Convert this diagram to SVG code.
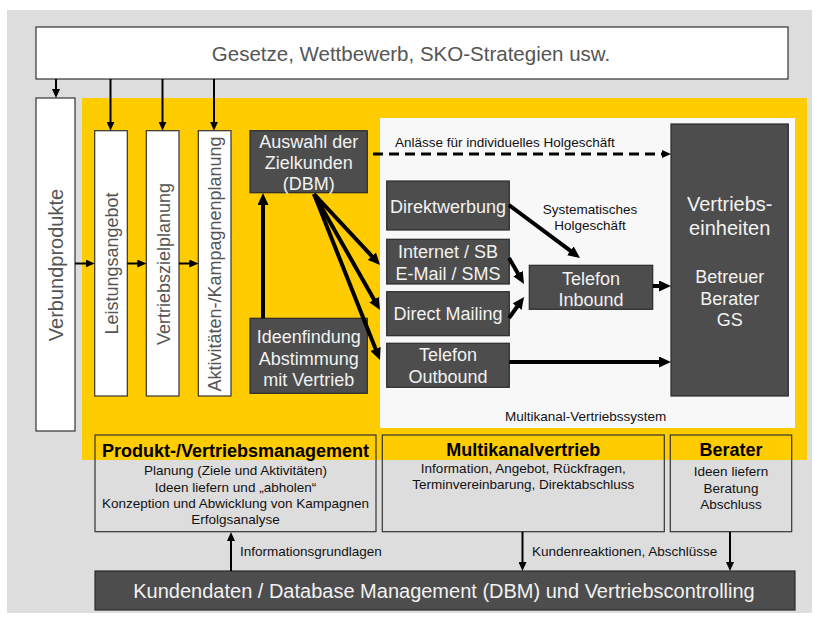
<svg xmlns="http://www.w3.org/2000/svg" width="818" height="619" viewBox="0 0 818 619">
<defs>
<style>
text{font-family:"Liberation Sans",Arial,sans-serif}
.wbox{fill:#fff;stroke:#333;stroke-width:1.2}
.dbox{fill:#4d4d4d;stroke:#2a2a2a;stroke-width:1.2}
.tbox{fill:none;stroke:#333;stroke-width:1.2}
.gt{fill:#555;font-size:18px}
.dt{fill:#f2f2f2;font-size:18px;text-anchor:middle}
.hd{fill:#000;font-size:18px;font-weight:bold;text-anchor:middle}
.sm{fill:#111;font-size:13.5px;text-anchor:middle}
.lb{fill:#111;font-size:13.5px}
.thin{stroke:#000;stroke-width:2;fill:none;marker-end:url(#at)}
.thick{stroke:#000;stroke-width:4;fill:none;marker-end:url(#ah)}
</style>
<marker id="ah" markerUnits="userSpaceOnUse" markerWidth="12" markerHeight="11" refX="4" refY="5.5" orient="auto"><path d="M0,0 L12,5.5 L0,11 z" fill="#000"/></marker>
<marker id="at" markerUnits="userSpaceOnUse" markerWidth="9" markerHeight="8" refX="3" refY="4" orient="auto"><path d="M0,0 L9,4 L0,8 z" fill="#000"/></marker>
</defs>
<rect x="7" y="10" width="805" height="603" fill="#dddddd"/>
<rect x="82" y="98" width="725" height="362" fill="#ffcc00"/>
<rect x="380" y="118" width="415" height="310" fill="#f8f8f8"/>

<g id="gesetze">
<rect class="wbox" x="36" y="27" width="752" height="52"/>
<text x="411" y="61" fill="#555" font-size="20.5" text-anchor="middle">Gesetze, Wettbewerb, SKO-Strategien usw.</text>
</g>
<g id="verbundprodukte">
<rect class="wbox" x="36" y="98" width="39" height="333"/>
<text class="gt" transform="translate(63,265) rotate(-90)" font-size="20" style="font-size:20px" text-anchor="middle">Verbundprodukte</text>
</g>
<g id="leistungsangebot">
<rect class="wbox" x="94.7" y="130.7" width="32.6" height="265.3"/>
<text class="gt" transform="translate(118,263.5) rotate(-90)" text-anchor="middle">Leistungsangebot</text>
</g>
<g id="vertriebszielplanung">
<rect class="wbox" x="146.3" y="130.7" width="32.7" height="265.3"/>
<text class="gt" transform="translate(169.5,264) rotate(-90)" text-anchor="middle">Vertriebszielplanung</text>
</g>
<g id="aktivitaeten">
<rect class="wbox" x="198.3" y="130.7" width="32.7" height="265.3"/>
<text class="gt" transform="translate(221,264) rotate(-90)" text-anchor="middle">Aktivitäten-/Kampagnenplanung</text>
</g>
<g id="auswahl">
<rect class="dbox" x="250" y="130.7" width="117.3" height="62"/>
<text class="dt" x="308.7" y="148">Auswahl der</text>
<text class="dt" x="308.7" y="169">Zielkunden</text>
<text class="dt" x="308.7" y="190">(DBM)</text>
</g>
<g id="ideenfindung">
<rect class="dbox" x="250" y="318.3" width="117.3" height="75"/>
<text class="dt" x="308.7" y="343">Ideenfindung</text>
<text class="dt" x="308.7" y="364.5">Abstimmung</text>
<text class="dt" x="308.7" y="386">mit Vertrieb</text>
</g>
<g id="direktwerbung">
<rect class="dbox" x="386.7" y="181" width="122.6" height="49"/>
<text class="dt" x="448" y="213">Direktwerbung</text>
</g>
<g id="internet">
<rect class="dbox" x="386.7" y="239.3" width="122.6" height="44.7"/>
<text class="dt" x="448" y="258">Internet / SB</text>
<text class="dt" x="448" y="280">E-Mail / SMS</text>
</g>
<g id="directmailing">
<rect class="dbox" x="386.7" y="291.7" width="122.6" height="44"/>
<text class="dt" x="448" y="320">Direct Mailing</text>
</g>
<g id="outbound">
<rect class="dbox" x="386.7" y="343.3" width="122.6" height="44"/>
<text class="dt" x="448" y="360.5">Telefon</text>
<text class="dt" x="448" y="383">Outbound</text>
</g>
<g id="inbound">
<rect class="dbox" x="529.3" y="265.3" width="123.4" height="44"/>
<text class="dt" x="591" y="284.7">Telefon</text>
<text class="dt" x="591" y="306.3">Inbound</text>
</g>
<g id="vertriebseinheiten">
<rect class="dbox" x="671" y="124" width="117.3" height="272"/>
<text class="dt" x="729.7" y="211" style="font-size:20px">Vertriebs-</text>
<text class="dt" x="729.7" y="234.5" style="font-size:20px">einheiten</text>
<text class="dt" x="729.7" y="283">Betreuer</text>
<text class="dt" x="729.7" y="304.5">Berater</text>
<text class="dt" x="729.7" y="326">GS</text>
</g>
<g id="produktmanagement">
<rect class="tbox" x="95" y="435" width="281" height="96.7"/>
<text class="hd" x="235.5" y="457">Produkt-/Vertriebsmanagement</text>
<text class="sm" x="235.5" y="475">Planung (Ziele und Aktivitäten)</text>
<text class="sm" x="235.5" y="491.5">Ideen liefern und „abholen“</text>
<text class="sm" x="235.5" y="508">Konzeption und Abwicklung von Kampagnen</text>
<text class="sm" x="235.5" y="524">Erfolgsanalyse</text>
</g>
<g id="multikanalvertrieb">
<rect class="tbox" x="382.3" y="435" width="282" height="96.7"/>
<text class="hd" x="523.3" y="456">Multikanalvertrieb</text>
<text class="sm" x="523.3" y="473">Information, Angebot, Rückfragen,</text>
<text class="sm" x="523.3" y="489">Terminvereinbarung, Direktabschluss</text>
</g>
<g id="berater">
<rect class="tbox" x="670.3" y="435" width="121.4" height="96.7"/>
<text class="hd" x="731" y="456">Berater</text>
<text class="sm" x="731" y="476">Ideen liefern</text>
<text class="sm" x="731" y="492.5">Beratung</text>
<text class="sm" x="731" y="509">Abschluss</text>
</g>
<g id="kundendaten">
<rect class="dbox" x="95" y="571" width="700" height="39"/>
<text class="dt" x="444" y="598" style="font-size:20px">Kundendaten / Database Management (DBM) und Vertriebscontrolling</text>
</g>
<g id="labels">
<text class="lb" x="395" y="146.5">Anlässe für individuelles Holgeschäft</text>
<text class="sm" x="590" y="213.5">Systematisches</text>
<text class="sm" x="590" y="229.5">Holgeschäft</text>
<text class="lb" x="505" y="421">Multikanal-Vertriebssystem</text>
<text class="lb" x="240" y="556">Informationsgrundlagen</text>
<text class="lb" x="532" y="556">Kundenreaktionen, Abschlüsse</text>
</g>
<g id="connectors">
<line class="thin" x1="56" y1="79" x2="56" y2="92"/>
<line class="thin" x1="110.5" y1="79" x2="110.5" y2="124.7"/>
<line class="thin" x1="162.5" y1="79" x2="162.5" y2="124.7"/>
<line class="thin" x1="214" y1="79" x2="214" y2="124.7"/>
<line class="thin" x1="75" y1="263.5" x2="88.7" y2="263.5"/>
<line class="thin" x1="127.3" y1="263.5" x2="140.3" y2="263.5"/>
<line class="thin" x1="179" y1="263.5" x2="192.3" y2="263.5"/>
<line x1="373" y1="154" x2="665" y2="154" stroke="#000" stroke-width="3" stroke-dasharray="10,6" marker-end="url(#at)"/>
<line class="thick" x1="263" y1="318.3" x2="263" y2="201"/>
<line class="thick" x1="314" y1="194" x2="374.6" y2="259.1"/>
<line class="thick" x1="314" y1="194" x2="376" y2="303"/>
<line class="thick" x1="314" y1="194" x2="377" y2="352.6"/>
<line class="thick" x1="509" y1="205" x2="573.6" y2="253.2"/>
<line class="thick" x1="509" y1="258" x2="520" y2="277"/>
<line class="thick" x1="509" y1="318" x2="519.4" y2="303.5"/>
<line class="thick" x1="652.7" y1="286" x2="663" y2="286"/>
<line class="thick" x1="509.3" y1="362" x2="663" y2="362"/>
<line class="thin" x1="231" y1="571" x2="231" y2="538"/>
<line class="thin" x1="522.5" y1="531.7" x2="522.5" y2="565"/>
<line class="thin" x1="730" y1="531.7" x2="730" y2="565"/>
</g>
</svg>
